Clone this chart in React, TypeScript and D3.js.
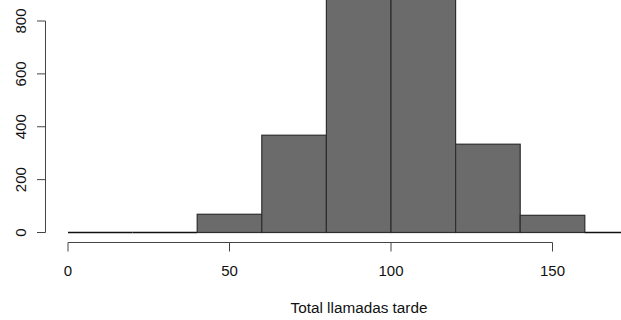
import React from "react";
import * as d3 from "d3";

const binStarts = [0, 20, 40, 60, 80, 100, 120, 140, 160];
const binWidth = 20;
const counts = [0, 0, 69, 368, 905, 890, 334, 65, 0];
const xTicks = [0, 50, 100, 150];
const yTicks = [0, 200, 400, 600, 800];
const xTitle = "Total llamadas tarde";

const W = 621;
const H = 320;

export default function App() {
  const x = d3.scaleLinear().domain([0, 150]).range([68, 552.5]);
  const y = d3.scaleLinear().domain([0, 800]).range([232.5, 21]);
  const font = "'Liberation Sans', Arial, sans-serif";
  return (
    <svg
      width={W}
      height={H}
      style={{ position: "fixed", left: 0, top: 0, background: "#fff" }}
    >
      <g>
        {binStarts.map((b, i) =>
          counts[i] > 0 ? (
            <rect
              key={i}
              x={x(b)}
              y={y(counts[i])}
              width={x(b + binWidth) - x(b)}
              height={y(0) - y(counts[i])}
              fill="#6b6b6b"
              stroke="#2e2e2e"
              strokeWidth={1.2}
            />
          ) : (
            <line
              key={i}
              x1={x(b)}
              x2={x(b + binWidth)}
              y1={y(0)}
              y2={y(0)}
              stroke="#111"
              strokeWidth={1.6}
            />
          )
        )}
      </g>
      {/* x axis */}
      <g stroke="#444" strokeWidth={1} fill="none">
        <line x1={x(xTicks[0])} x2={x(xTicks[xTicks.length - 1])} y1={242.5} y2={242.5} />
        {xTicks.map((t) => (
          <line key={t} x1={x(t)} x2={x(t)} y1={242.5} y2={251.5} />
        ))}
      </g>
      {xTicks.map((t) => (
        <text
          key={t}
          x={x(t)}
          y={276}
          textAnchor="middle"
          fontFamily={font}
          fontSize={15}
          fill="#111"
        >
          {t}
        </text>
      ))}
      {/* y axis */}
      <g stroke="#444" strokeWidth={1} fill="none">
        <line x1={45.5} x2={45.5} y1={y(yTicks[0])} y2={y(yTicks[yTicks.length - 1])} />
        {yTicks.map((t) => (
          <line key={t} x1={37} x2={45.5} y1={y(t)} y2={y(t)} />
        ))}
      </g>
      {yTicks.map((t) => (
        <text
          key={t}
          transform={`translate(25.5,${y(t)}) rotate(-90)`}
          textAnchor="middle"
          fontFamily={font}
          fontSize={15}
          fill="#111"
        >
          {t}
        </text>
      ))}
      <text
        x={(289 + 429) / 2}
        y={313}
        textAnchor="middle"
        fontFamily={font}
        fontSize={15.3}
        fill="#111"
      >
        {xTitle}
      </text>
    </svg>
  );
}
